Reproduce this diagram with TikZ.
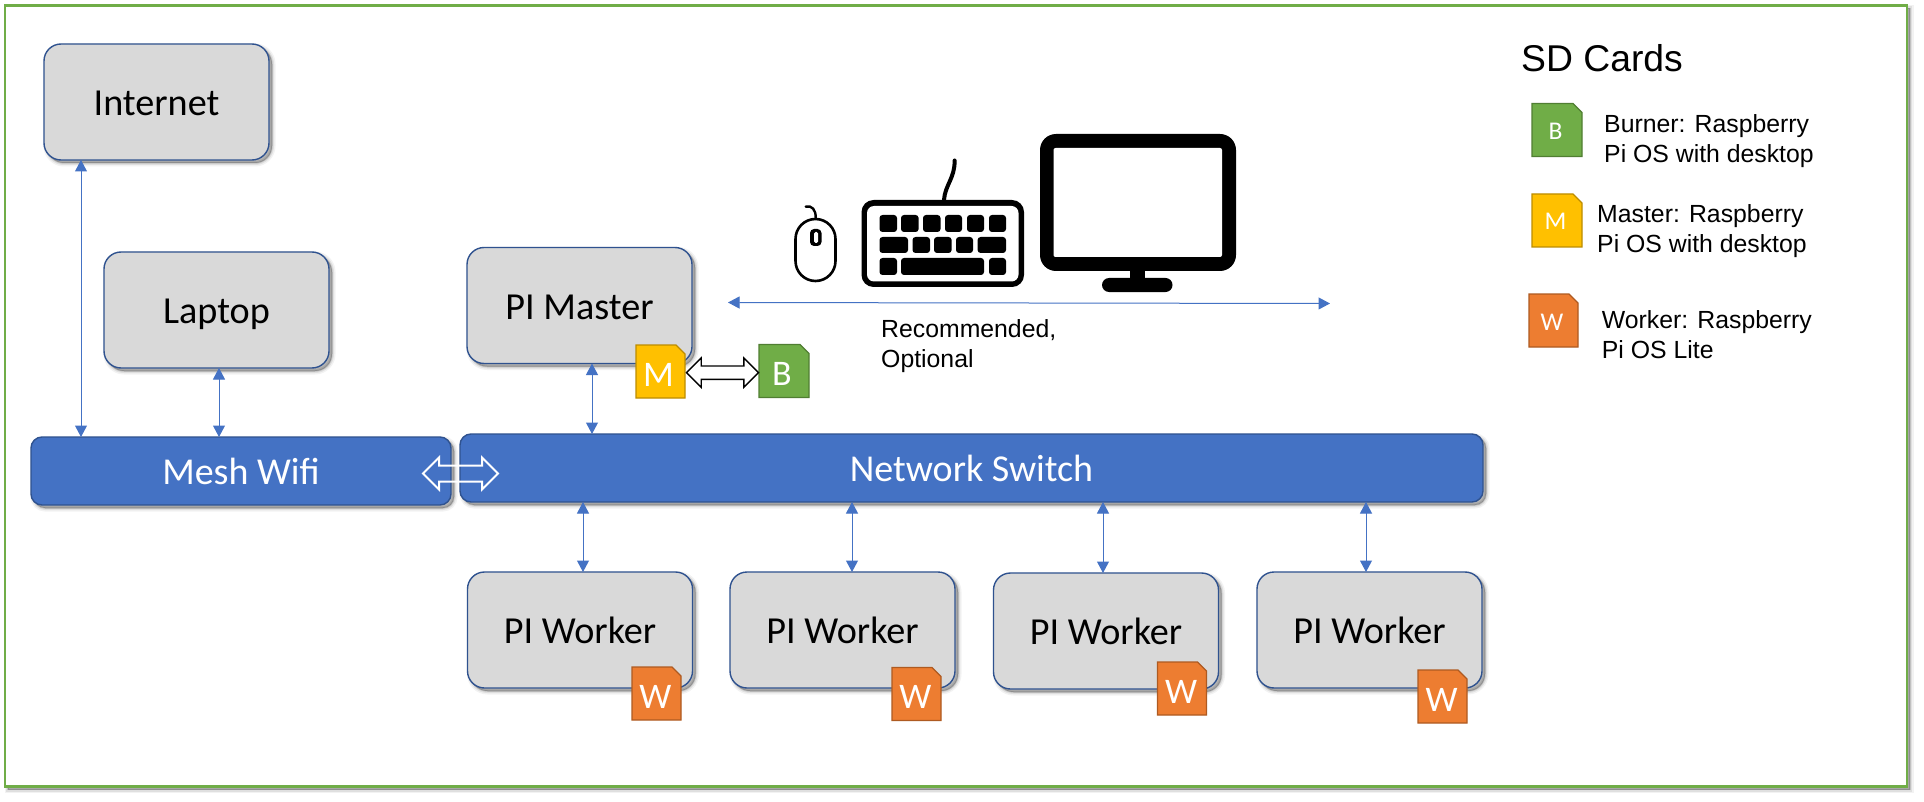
\documentclass[tikz,border=0pt]{standalone}
\usepackage{fontspec}
\setmainfont{Liberation Sans}
\newfontfamily\carl{Carlito}
\usetikzlibrary{arrows.meta,shadows,shapes.arrows,shapes.misc,calc}
\definecolor{boxgray}{HTML}{D9D9D9}
\definecolor{edgeblue}{HTML}{2F528F}
\definecolor{barblue}{HTML}{4472C4}
\definecolor{framegreen}{HTML}{70AD47}
\definecolor{greenedge}{HTML}{507E32}
\definecolor{cardyellow}{HTML}{FFC000}
\definecolor{yellowedge}{HTML}{BC8C00}
\definecolor{cardorange}{HTML}{ED7D31}
\definecolor{orangeedge}{HTML}{AE5A21}
\tikzset{
  x=1pt,y=-1pt,
  softshadow/.style={
    general shadow={shadow xshift=#1,shadow yshift=-#1,draw=black,fill=black,line width=7pt,opacity=.05},
    general shadow={shadow xshift=#1,shadow yshift=-#1,draw=black,fill=black,line width=4pt,opacity=.08},
    general shadow={shadow xshift=#1,shadow yshift=-#1,draw=black,fill=black,line width=1.5pt,opacity=.14}},
  pcbox/.style={draw=edgeblue,fill=boxgray,line width=1.4pt,rounded corners=17pt,inner sep=0pt,outer sep=0pt,
    minimum width=225pt,minimum height=116pt,text=black,softshadow=3pt,
    font=\carl\fontsize{38.2}{38.2}\selectfont,text height=27pt,text depth=0pt},
  bar/.style={draw=edgeblue,fill=barblue,line width=1.4pt,rounded corners=11pt,inner sep=0pt,outer sep=0pt,
    minimum height=68pt,text=white,softshadow=3pt,
    font=\carl\fontsize{38}{38}\selectfont,text height=26pt,text depth=0pt},
  sdcard/.style={chamfered rectangle,chamfered rectangle corners=north east,chamfered rectangle xsep=4.5pt,
    chamfered rectangle ysep=4.5pt,line width=1.3pt,inner sep=0pt,outer sep=0pt,minimum width=#1,minimum height=53pt,
    text=white,font=\carl\fontsize{36}{36}\selectfont,text height=29pt,text depth=0pt},
  sdcard/.default=49pt,
  legendcard/.style={sdcard=#1,font=\carl\fontsize{25.5}{25.5}\selectfont,text height=19pt},
  legendcard/.default=49pt,
  greencard/.style={fill=framegreen,draw=greenedge},
  yellowcard/.style={fill=cardyellow,draw=yellowedge},
  orangecard/.style={fill=cardorange,draw=orangeedge},
  link/.style={draw=barblue,line width=1pt,{Triangle[width=12pt,length=11.5pt]}-{Triangle[width=12pt,length=11.5pt]},shorten <=0pt,shorten >=0pt},
  bigarrow/.style={double arrow,double arrow head extend=#1,inner sep=0pt,outer sep=0pt,text depth=0pt},
  caption/.style={anchor=base west,align=left,text=black,font=\fontsize{24.8}{30}\selectfont,inner sep=0pt},
}
\begin{document}
\begin{tikzpicture}
\useasboundingbox (0,0) rectangle (1924,802);
% outer frame
\node[draw=framegreen,fill=white,line width=2.2pt,minimum width=1902pt,minimum height=781pt,inner sep=0pt,outer sep=0pt,
  softshadow=3pt] (frame) at (956,396) {};

% reference x positions of the vertical connectors
\coordinate (xinternet) at (81,0);
\coordinate (xlaptop) at (219,0);
\coordinate (xmaster) at (592,0);
\coordinate (xworkA) at (583,0);
\coordinate (xworkB) at (852,0);
\coordinate (xworkC) at (1103,0);
\coordinate (xworkD) at (1366,0);

% devices
\node[pcbox] (internet) at (156.5,102) {Internet};
\node[pcbox] (laptop) at (216.5,310) {Laptop};
\node[pcbox] (master) at (579.5,305.5) {PI Master};
\node[pcbox] (workerA) at (580,630) {PI Worker};
\node[pcbox] (workerB) at (842.5,630) {PI Worker};
\node[pcbox] (workerC) at (1106,631) {PI Worker};
\node[pcbox] (workerD) at (1369.5,630) {PI Worker};

% network bars
\node[bar,minimum width=420pt] (mesh) at (241,471) {Mesh Wifi};
\node[bar,minimum width=1023pt] (switch) at (971.5,468) {Network Switch};

% connectors
\draw[link] (internet.south -| xinternet) -- (mesh.north -| xinternet);
\draw[link] (laptop.south -| xlaptop) -- (mesh.north -| xlaptop);
\draw[link] (master.south -| xmaster) -- (switch.north -| xmaster);
\draw[link] (switch.south -| xworkA) -- (workerA.north -| xworkA);
\draw[link] (switch.south -| xworkB) -- (workerB.north -| xworkB);
\draw[link] (switch.south -| xworkC) -- (workerC.north -| xworkC);
\draw[link] (switch.south -| xworkD) -- (workerD.north -| xworkD);

% SD cards on the devices
\node[sdcard,yellowcard] (cardM) at (660.5,371.5) {M\kern4pt};
\node[sdcard=50pt,greencard] (cardB) at (784,371) {B\kern4pt};
\node[sdcard,orangecard] (cardWA) at (656.5,693.5) {W\kern2pt};
\node[sdcard,orangecard] (cardWB) at (916.5,694) {W\kern2pt};
\node[sdcard,orangecard] (cardWC) at (1182,688.5) {W\kern2pt};
\node[sdcard,orangecard] (cardWD) at (1442.5,696.5) {W\kern2pt};

% block arrows
\node[bigarrow=8pt,draw=white,line width=2pt,minimum height=75pt,text height=14pt] (meshlink) at (460.5,473.5) {};
\node[bigarrow=8pt,draw=black,fill=white,line width=1.4pt,minimum height=72pt,text height=12pt] (cardlink) at (722.5,372.7) {};

% display connector
\coordinate (leftend) at (728,302.5);
\coordinate (rightend) at (1330,303.5);
\draw[link] (leftend) -- (rightend);
\node[caption] (optional) at (881,367.7) {Recommended,\\Optional};

% mouse
\draw[black,line width=2.6pt,rounded corners=20pt] (795.5,219) rectangle (835.5,281);
\draw[black,line width=2.4pt,line cap=round] (805.7,206.7) .. controls (812,205) and (816,210) .. (815.7,218);
\fill[black,rounded corners=4pt] (810,229) rectangle (821.5,246);
\fill[white,rounded corners=1.5pt] (814,232) rectangle (818,243);

% keyboard
\draw[black,line width=4pt,line cap=round] (944,200) .. controls (945,185) and (955,178) .. (954.6,160.5);
\fill[black,rounded corners=12pt] (861.5,200) rectangle (1024,287);
\fill[white,rounded corners=7pt] (867,206) rectangle (1018.5,281.5);
\foreach \xa/\xb in {879.5/897,901/918.6,923/940.5,945/962,967/984,989/1006}
  \fill[black,rounded corners=3pt] (\xa,215) rectangle (\xb,232);
\foreach \xa/\xb in {879.5/908,912.5/930,934/951.6,956/973,977.6/1006}
  \fill[black,rounded corners=3pt] (\xa,237) rectangle (\xb,253);
\foreach \xa/\xb in {879.5/897,901/984,989/1006}
  \fill[black,rounded corners=3pt] (\xa,258) rectangle (\xb,275);

% monitor
\fill[black,rounded corners=16pt] (1040,134) rectangle (1236,271);
\fill[white,rounded corners=2pt] (1053.5,148) rectangle (1222,257);
\fill[black] (1130,268) rectangle (1145,282);
\fill[black,rounded corners=7pt] (1102,278) rectangle (1172.5,292);

% legend
\node[anchor=base west,inner sep=0pt,font=\fontsize{37.3}{37.3}\selectfont] (legendtitle) at (1521,72) {SD Cards};
\node[legendcard=50pt,greencard] (legendB) at (1557,130) {B\kern3pt};
\node[legendcard=50pt,yellowcard] (legendM) at (1557,220.5) {M\kern3pt};
\node[legendcard=49pt,orangecard] (legendW) at (1553.5,320.5) {W\kern3pt};
\node[caption] (textB) at (1604,162.7) {Burner: Raspberry\\Pi OS with desktop};
\node[caption] (textM) at (1597,252.7) {Master: Raspberry\\Pi OS with desktop};
\node[caption] (textW) at (1601.7,358) {Worker: Raspberry\\Pi OS Lite};
\end{tikzpicture}
\end{document}
